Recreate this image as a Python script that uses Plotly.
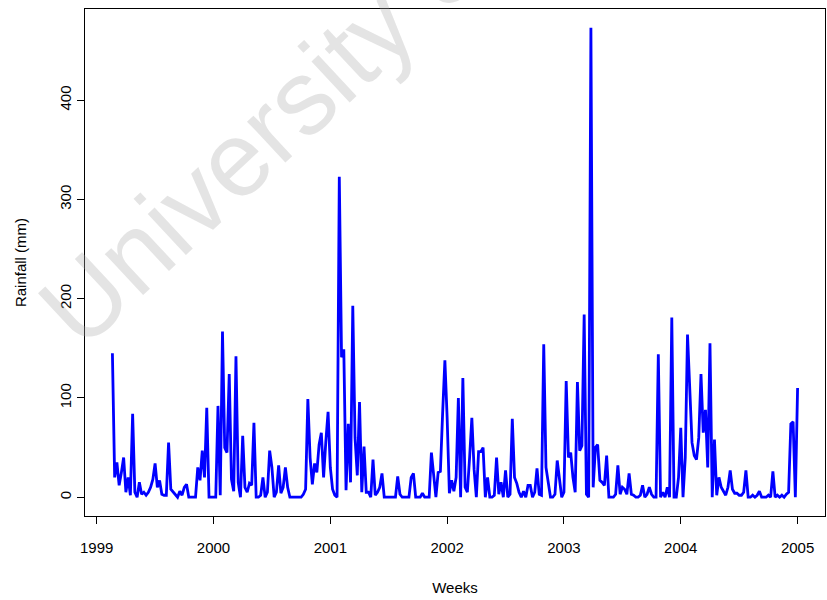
import plotly.graph_objects as go

# Weekly rainfall (mm); series starts in week 8 of 1999, one value per week
rain_1999 = [145, 20, 35, 12, 25, 40, 5, 20, 2, 84, 5, 0, 15, 3, 5, 2, 5, 10, 18, 34,
             10, 17, 3, 2, 2, 55, 8, 5, 2, 0, 6, 2, 10, 13, 0, 0, 0, 0, 30, 17,
             47, 20, 90, 0, 0]
rain_2000 = [0, 0, 92, 2, 167, 50, 45, 124, 18, 6, 142, 15, 0, 62, 10, 5, 14, 12, 75, 0,
             0, 2, 20, 0, 5, 47, 30, 0, 5, 32, 4, 10, 30, 10, 0, 0, 0, 0, 0, 0,
             3, 8, 99, 40, 13, 34, 25, 53, 65, 20, 56, 86]
rain_2001 = [30, 8, 2, 0, 323, 141, 149, 7, 74, 15, 193, 60, 22, 96, 5, 51, 5, 5, 0, 38,
             2, 5, 10, 24, 0, 0, 0, 0, 0, 0, 21, 3, 0, 0, 0, 0, 20, 24, 0, 0,
             0, 4, 0, 0, 0, 45, 20, 0, 25, 26, 85, 138]
rain_2002 = [80, 4, 17, 6, 20, 100, 0, 120, 10, 5, 40, 80, 28, 0, 46, 46, 50, 0, 20, 0,
             0, 2, 40, 3, 15, 0, 27, 0, 3, 79, 20, 14, 5, 0, 6, 0, 12, 12, 0, 5,
             29, 3, 2, 154, 30, 12, 0, 0, 3, 37, 17, 0]
rain_2003 = [5, 117, 40, 45, 20, 5, 116, 47, 52, 184, 3, 0, 473, 10, 50, 53, 17, 15, 12, 42,
             0, 0, 0, 3, 32, 3, 10, 8, 3, 24, 3, 2, 0, 0, 2, 12, 0, 3, 10, 3,
             0, 0, 144, 0, 5, 0, 10, 0, 181, 0, 0, 20]
rain_2004 = [70, 0, 40, 164, 110, 55, 42, 38, 60, 124, 65, 88, 30, 155, 0, 58, 2, 20, 10, 6,
             2, 10, 27, 8, 4, 4, 2, 2, 5, 27, 0, 0, 2, 0, 2, 6, 0, 0, 0, 2,
             0, 26, 0, 2, 0, 2, 0, 3, 5, 74, 76, 0]
rain_2005 = [110]

start_year, start_week = 1999, 8
freq = 52
x_ticks = [1999, 2000, 2001, 2002, 2003, 2004, 2005]
y_ticks = [0, 100, 200, 300, 400]

rain = rain_1999 + rain_2000 + rain_2001 + rain_2002 + rain_2003 + rain_2004 + rain_2005
time = [start_year + (start_week - 1 + i) / freq for i in range(len(rain))]

# axis limits padded by 4% like base graphics
t0, t1 = min(time), max(time)
r0, r1 = min(rain), max(rain)
x_pad = 0.04 * (t1 - t0)
y_pad = 0.04 * (r1 - r0)

font_family = "Liberation Sans, Arial, Helvetica, sans-serif"
label_font = dict(family=font_family, size=15, color="black")

fig = go.Figure()
fig.add_trace(go.Scatter(
    x=time, y=rain, mode="lines",
    line=dict(color="#0000ff", width=2.8),
    hoverinfo="x+y", showlegend=False,
))

axis_common = dict(
    showgrid=False, zeroline=False, showline=True, mirror=True,
    linecolor="black", linewidth=1, ticks="outside", ticklen=7,
    tickwidth=1, tickcolor="black", tickfont=label_font,
)

fig.update_xaxes(
    range=[t0 - x_pad, t1 + x_pad], tickvals=x_ticks,
    ticktext=[str(v) for v in x_ticks],
    title=dict(text="Weeks", font=label_font, standoff=27),
    ticklabelstandoff=11,
    **axis_common,
)
fig.update_yaxes(
    range=[r0 - y_pad, r1 + y_pad], tickvals=y_ticks,
    ticktext=[str(v) for v in y_ticks], tickangle=-90,
    title=dict(text="Rainfall (mm)", font=label_font, standoff=26),
    ticklabelstandoff=0,
    **axis_common,
)

# watermark text across the upper-left of the figure
fig.add_annotation(
    text="University of", xref="paper", yref="paper",
    x=(270 - 85) / 740, y=(516 - 126) / 507,
    xanchor="center", yanchor="middle", showarrow=False, textangle=-43,
    font=dict(family=font_family, size=106, color="rgba(170,170,170,0.32)"),
)

fig.update_layout(
    width=827, height=600,
    margin=dict(l=85, r=2, t=9, b=84),
    paper_bgcolor="white", plot_bgcolor="white",
)

fig.write_html("out.html")
